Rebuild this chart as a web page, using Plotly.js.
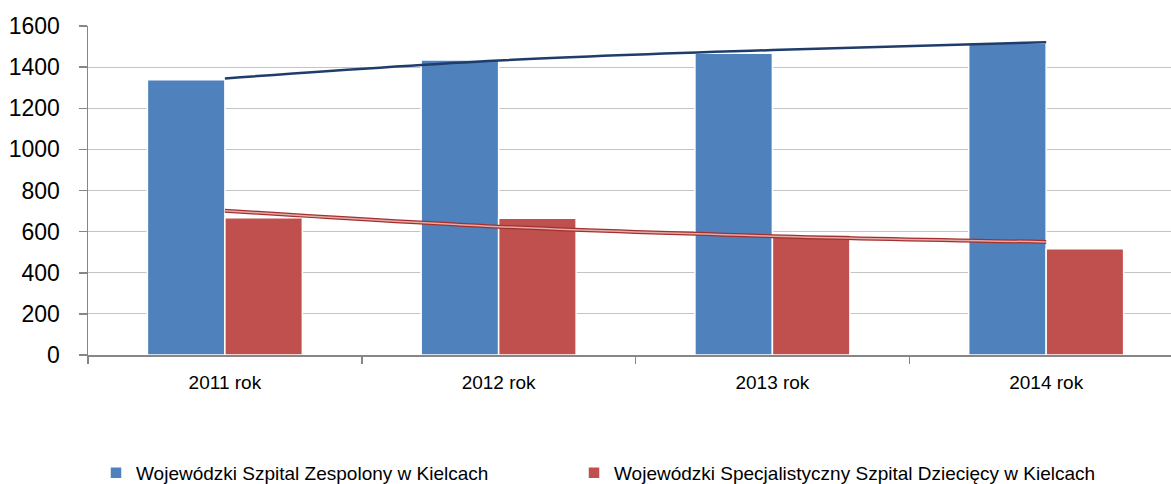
<!DOCTYPE html>
<html>
<head>
<meta charset="utf-8">
<script src="https://cdn.plot.ly/plotly-3.0.1.min.js"></script>
<style>html,body{margin:0;padding:0;background:#fff;}#chart{width:1171px;height:484px;}</style>
</head>
<body>
<div id="chart"></div>
<script>
const categories = ['2011 rok', '2012 rok', '2013 rok', '2014 rok'];
const seriesNames = ['Wojewódzki Szpital Zespolony w Kielcach', 'Wojewódzki Specjalistyczny Szpital Dziecięcy w Kielcach'];
const zespolony = [1338, 1435, 1467, 1516];
const dzieciecy = [668, 665, 584, 517];
const trendZespolony = [1345, 1432, 1483, 1521];
const trendDzieciecy = [702, 624, 578, 550];
const yTicks = [0, 200, 400, 600, 800, 1000, 1200, 1400, 1600];

const FONT = 'Liberation Sans, Arial, sans-serif';

const data = [
  {type: 'bar', name: seriesNames[0], x: categories, y: zespolony, legend: 'legend',
   marker: {color: '#4F81BD', line: {color: '#ffffff', width: 1.5}}, hoverinfo: 'skip'},
  {type: 'bar', name: seriesNames[1], x: categories, y: dzieciecy, legend: 'legend2',
   marker: {color: '#C0504D', line: {color: '#ffffff', width: 1.5}}, hoverinfo: 'skip'},
  {type: 'scatter', mode: 'lines', x: categories, y: trendZespolony, showlegend: false,
   line: {color: '#1F3D6B', width: 2.5, shape: 'spline'}, hoverinfo: 'skip'},
  {type: 'scatter', mode: 'lines', x: categories, y: trendDzieciecy, showlegend: false,
   line: {color: '#A2302E', width: 4, shape: 'spline'}, hoverinfo: 'skip'},
  {type: 'scatter', mode: 'lines', x: categories, y: trendDzieciecy, showlegend: false,
   line: {color: '#E2AAA8', width: 1.5, shape: 'spline'}, hoverinfo: 'skip'}
];

const legendBase = {
  orientation: 'h', xref: 'container', yref: 'container',
  xanchor: 'left', y: 11 / 484, yanchor: 'middle',
  font: {family: FONT, size: 19, color: '#000'},
  bgcolor: 'rgba(0,0,0,0)', borderwidth: 0
};

const layout = {
  width: 1171, height: 484,
  margin: {l: 88, r: 0, t: 26, b: 129, pad: 0},
  paper_bgcolor: '#ffffff', plot_bgcolor: '#ffffff',
  font: {family: FONT, color: '#000000'},
  barmode: 'group', bargap: 0.434, bargroupgap: 0,
  xaxis: {
    type: 'category', range: [-0.5, 3.456], fixedrange: true,
    showgrid: false, zeroline: false,
    showline: true, linecolor: '#868686', linewidth: 1.5,
    ticks: 'outside', tickson: 'boundaries', ticklen: 7, tickcolor: '#868686', tickwidth: 1.5,
    tickfont: {family: FONT, size: 19, color: '#000'},
    ticklabelstandoff: 10
  },
  yaxis: {
    range: [0, 1600], tickvals: yTicks, ticktext: yTicks.map(String), fixedrange: true,
    showgrid: true, gridcolor: '#C4C4C4', gridwidth: 1, zeroline: false,
    showline: true, linecolor: '#868686', linewidth: 1.5,
    ticks: 'outside', ticklen: 8, tickcolor: '#868686', tickwidth: 1.5,
    tickfont: {family: FONT, size: 23, color: '#000'},
    ticklabelstandoff: 14
  },
  showlegend: true,
  legend: Object.assign({}, legendBase, {x: 96 / 1171}),
  legend2: Object.assign({}, legendBase, {x: 574 / 1171})
};

Plotly.newPlot('chart', data, layout, {displayModeBar: false, staticPlot: true});
</script>
</body>
</html>
